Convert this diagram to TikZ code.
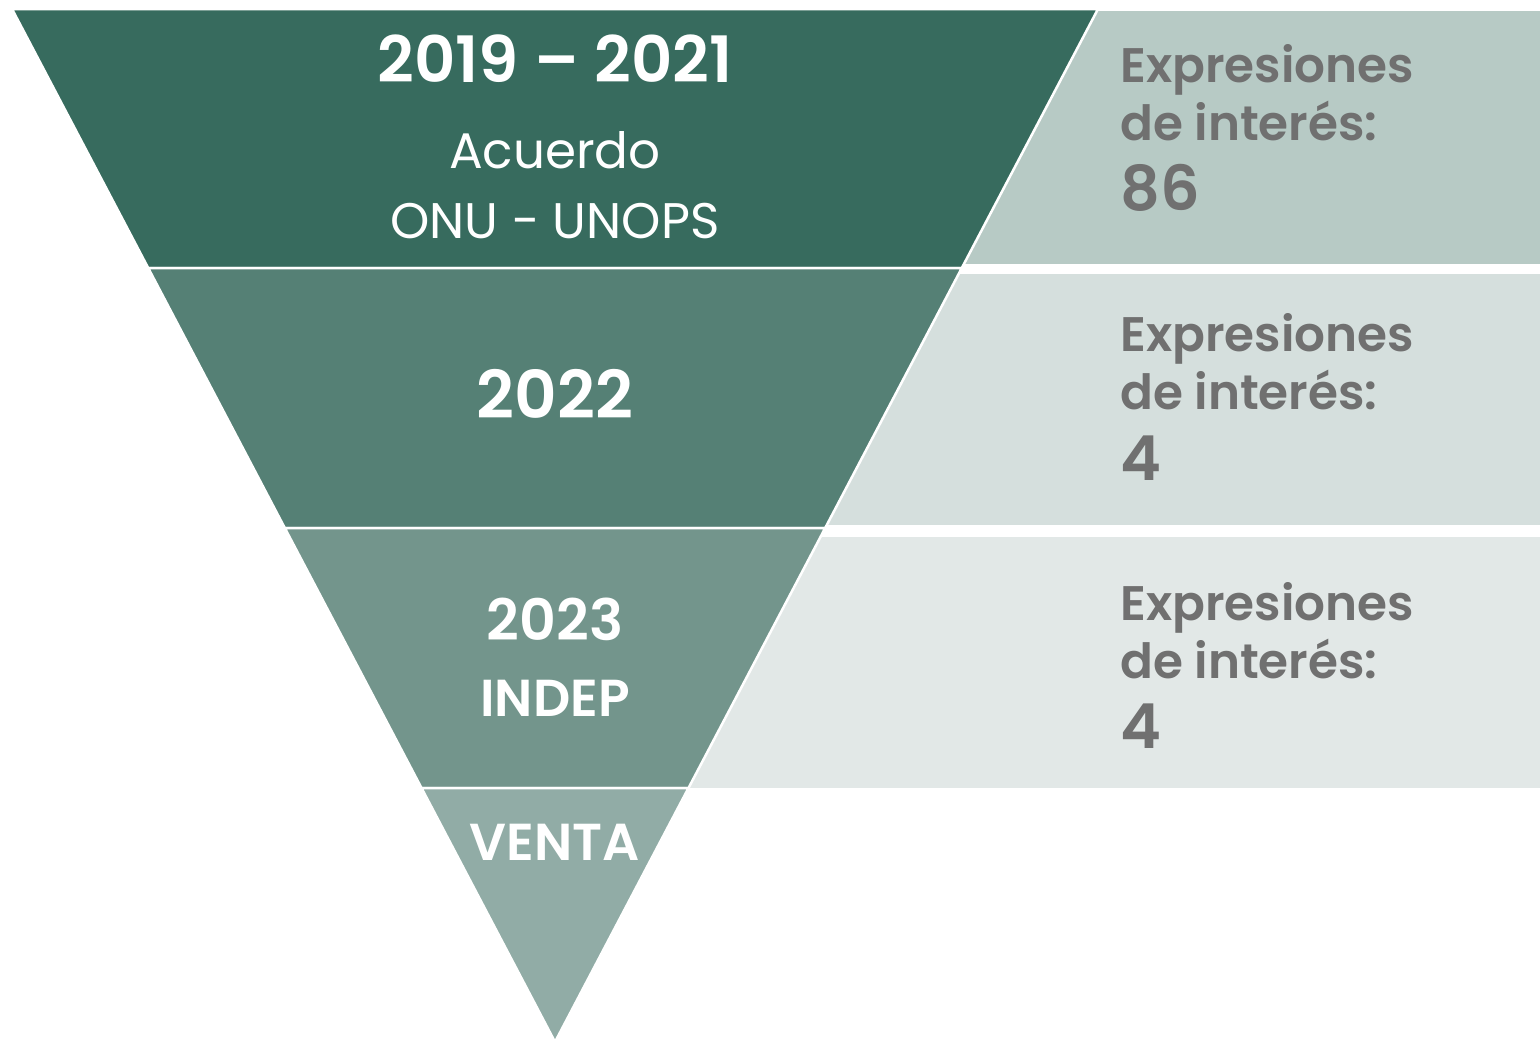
\documentclass[tikz,border=0pt]{standalone}
\usepackage{fontspec}
\setmainfont{Poppins}[BoldFont={Poppins SemiBold}]
\usetikzlibrary{positioning}

\definecolor{bandA}{HTML}{376B5E}
\definecolor{bandB}{HTML}{558075}
\definecolor{bandC}{HTML}{73958C}
\definecolor{bandD}{HTML}{91ACA6}
\definecolor{boxA}{HTML}{B7CAC5}
\definecolor{boxB}{HTML}{D5DFDD}
\definecolor{boxC}{HTML}{E2E8E7}
\definecolor{infogray}{HTML}{707070}

\begin{document}
\begin{tikzpicture}[x=1pt, y=-1pt,
    band/.style={draw=white, line width=2.5pt, line join=round},
    year/.style={text=white, font=\bfseries\fontsize{66}{80}\selectfont, inner sep=0, anchor=base},
    plain/.style={text=white, font=\fontsize{50}{60}\selectfont, inner sep=0, anchor=base},
    info/.style={text=infogray, font=\bfseries\fontsize{48.5}{58}\selectfont, inner sep=0, anchor=base west},
    count/.style={info, font=\bfseries\fontsize{62}{70}\selectfont}]

  \useasboundingbox (0,0) rectangle (1540,1042);

  % boxes on the right
  \fill[boxA] (900,11) rectangle (1540,264);
  \fill[boxB] (820,274) rectangle (1540,525);
  \fill[boxC] (680,537) rectangle (1540,788);

  % funnel
  \filldraw[band, fill=bandA] (12,9) -- (1098,9) -- (961.8,268) -- (148.2,268) -- cycle;
  \filldraw[band, fill=bandB] (148.2,268) -- (961.8,268) -- (825.2,528) -- (284.8,528) -- cycle;
  \filldraw[band, fill=bandC] (284.8,528) -- (825.2,528) -- (688.5,788) -- (421.5,788) -- cycle;
  \filldraw[band, fill=bandD] (421.5,788) -- (688.5,788) -- (555,1042) -- cycle;

  % funnel labels
  \node[year, font=\bfseries\fontsize{64}{80}\selectfont] (periodo) at (555,82) {2019 – 2021};
  \node[plain] (acuerdo) at (555,168) {Acuerdo};
  \node[plain] (onu) at (555,238) {ONU - UNOPS};
  \node[year] (anioB) at (555,418) {2022};
  \node[year, font=\bfseries\fontsize{57}{70}\selectfont] (anioC) at (555,640) {2023};
  \node[year, font=\bfseries\fontsize{52}{60}\selectfont] (indep) at (555,716) {INDEP};
  \node[year, font=\bfseries\fontsize{52}{60}\selectfont] (venta) at (555,860) {VENTA};

  % interest counts
  \node[info] (exprA) at (1120,82) {Expresiones};
  \node[info] (intA) at (1120,140) {de interés:};
  \node[count] (numA) at (1120,210) {86};

  \node[info] (exprB) at (1120,351) {Expresiones};
  \node[info] (intB) at (1120,409) {de interés:};
  \node[count] (numB) at (1120,480) {4};

  \node[info] (exprC) at (1120,620) {Expresiones};
  \node[info] (intC) at (1120,678) {de interés:};
  \node[count] (numC) at (1120,748) {4};
\end{tikzpicture}
\end{document}
